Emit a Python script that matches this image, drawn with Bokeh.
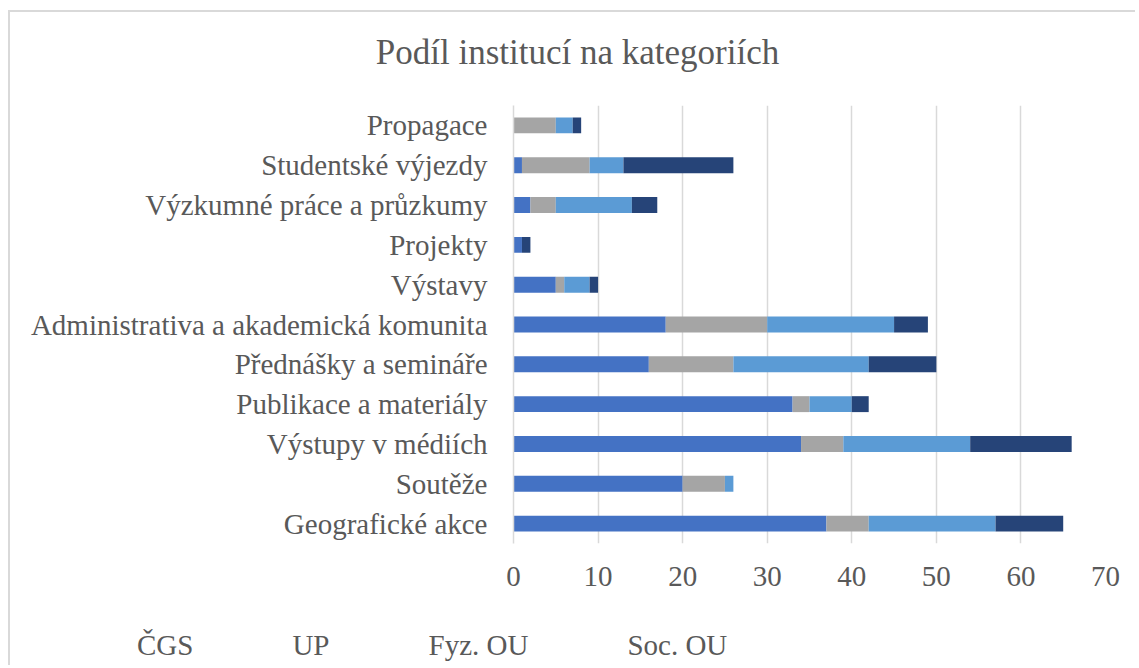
from bokeh.plotting import figure
from bokeh.layouts import column
from bokeh.models import FactorRange, Range1d, FixedTicker, Legend, LegendItem, Label, Title
from bokeh.embed import file_html
from bokeh.resources import INLINE

# ---- data (top-to-bottom order as shown) ----
categories = ["Propagace", "Studentské výjezdy", "Výzkumné práce a průzkumy", "Projekty",
              "Výstavy", "Administrativa a akademická komunita", "Přednášky a semináře",
              "Publikace a materiály", "Výstupy v médiích", "Soutěže", "Geografické akce"]
cgs    = [0, 1, 2, 1, 5, 18, 16, 33, 34, 20, 37]
up     = [5, 8, 3, 0, 1, 12, 10, 2, 5, 5, 5]
fyz_ou = [2, 4, 9, 0, 3, 15, 16, 5, 15, 1, 15]
soc_ou = [1, 13, 3, 1, 1, 4, 8, 2, 12, 0, 8]
series_names = ["ČGS", "UP", "Fyz. OU", "Soc. OU"]
colors = ["#4472C4", "#A5A5A5", "#5B9BD5", "#264478"]
x_ticks = [0, 10, 20, 30, 40, 50, 60, 70]
title_text = "Podíl institucí na kategoriích"

FONT = "Liberation Serif"
TXT = "#595959"
GRID = "#d9d9d9"
W = 1125

data = {"cat": categories, "ČGS": cgs, "UP": up, "Fyz. OU": fyz_ou, "Soc. OU": soc_ou}

# ---- title strip ----
t = figure(width=W, height=60, output_backend="svg", toolbar_location=None, title=None,
           x_axis_type=None, y_axis_type=None, x_range=Range1d(0, 1), y_range=Range1d(0, 1),
           min_border=0)
t.outline_line_color = None
t.grid.visible = False
t.add_layout(Label(x=567, y=20, x_units="screen", y_units="screen", text=title_text,
                   text_font=FONT, text_font_size="35px", text_color=TXT,
                   text_align="center", text_baseline="middle"))

# ---- main chart ----
p = figure(frame_width=592, frame_height=438, output_backend="svg", toolbar_location=None,
           title=None,
           y_range=FactorRange(*list(reversed(categories))),
           x_range=Range1d(0, 70),
           min_border_left=503, min_border_right=30, min_border_top=33, min_border_bottom=70)
p.outline_line_color = None

renderers = p.hbar_stack(series_names, y="cat", height=0.4, color=colors,
                         line_color=None, source=data)

p.xaxis.ticker = FixedTicker(ticks=x_ticks)
p.xaxis.axis_line_color = None
p.xaxis.major_tick_line_color = None
p.xaxis.minor_tick_line_color = None
p.xaxis.major_label_text_font = FONT
p.xaxis.major_label_text_font_size = "29px"
p.xaxis.major_label_text_color = TXT
p.xaxis.major_label_standoff = 17

p.yaxis.axis_line_color = GRID
p.yaxis.axis_line_width = 1.5
p.yaxis.major_tick_line_color = None
p.yaxis.minor_tick_line_color = None
p.yaxis.major_label_text_font = FONT
p.yaxis.major_label_text_font_size = "29px"
p.yaxis.major_label_text_color = TXT
p.yaxis.major_label_standoff = 20

p.xgrid.grid_line_color = GRID
p.xgrid.grid_line_width = 1.5
p.ygrid.grid_line_color = None

# ---- legend strip ----
q = figure(width=W, height=52, output_backend="svg", toolbar_location=None, title=None,
           x_axis_type=None, y_axis_type=None, x_range=Range1d(0, 1), y_range=Range1d(0, 1),
           min_border=0)
q.outline_line_color = None
q.grid.visible = False
swatches = [q.quad(left=[], right=[], top=[], bottom=[], color=c, line_color=None) for c in colors]
legend = Legend(items=[LegendItem(label=n, renderers=[r]) for n, r in zip(series_names, swatches)],
                orientation="horizontal", location=(107, 3),
                label_text_font=FONT, label_text_font_size="29px", label_text_color=TXT,
                glyph_width=14, glyph_height=14, label_standoff=6, spacing=79,
                padding=0, margin=0, border_line_color=None, background_fill_alpha=0)
q.add_layout(legend, "center")

# opt out of frame alignment so the strips keep their own full-width frames
independent = True
for f in (t, p, q):
    try:
        f.frame_align = False
    except Exception:
        independent = False

col_styles = {"border-left": "2px solid #d9d9d9", "border-top": "2px solid #d9d9d9",
              "margin-left": "8px", "margin-top": "10px"}

if independent:
    layout = column(t, p, q, spacing=0, styles=col_styles)
else:
    p.title = Title(text=title_text, align="left", offset=-139, standoff=50,
                    text_font=FONT, text_font_size="35px", text_font_style="normal",
                    text_color=TXT)
    p.min_border_top = 93
    legend.location = (0, 3)
    legend.spacing = 55
    layout = column(p, q, spacing=0, styles=col_styles)

open("out.html", "w").write(file_html(layout, INLINE))
